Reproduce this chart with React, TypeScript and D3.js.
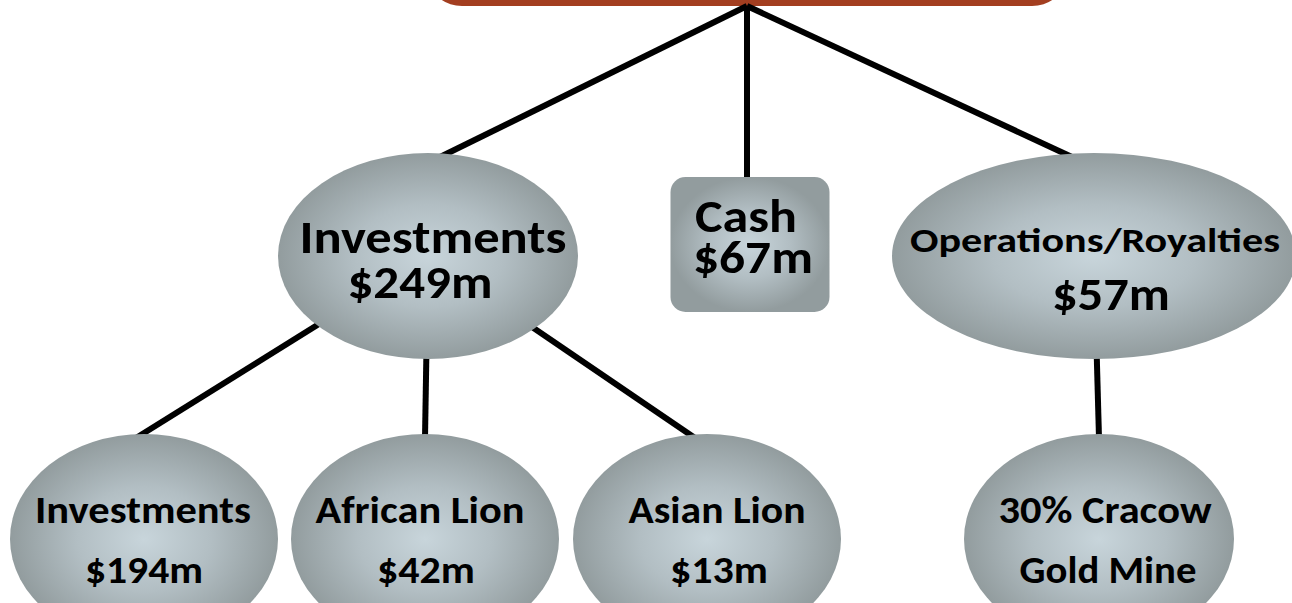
import React from 'react';
import * as d3 from 'd3';

// values
const groupNames = ['Investments', 'Cash', 'Operations/Royalties'];
const groupValues = [249, 67, 57];
const investmentNames = ['Investments', 'African Lion', 'Asian Lion'];
const investmentValues = [194, 42, 13];
const operationNames = ['30% Cracow'];
const operationNotes = ['Gold Mine'];

const W = 1292;
const H = 603;
const fmt = (v: number) => `$${d3.format('d')(v)}m`;

type Node = {
  id: string;
  lines: string[];
  children?: Node[];
};

const treeData: Node = {
  id: 'root',
  lines: [],
  children: [
    {
      id: 'inv',
      lines: [groupNames[0], fmt(groupValues[0])],
      children: investmentNames.map((n, i) => ({ id: 'inv' + i, lines: [n, fmt(investmentValues[i])] })),
    },
    { id: 'cash', lines: [groupNames[1], fmt(groupValues[1])] },
    {
      id: 'ops',
      lines: [groupNames[2], fmt(groupValues[2])],
      children: operationNames.map((n, i) => ({ id: 'ops' + i, lines: [n, operationNotes[i]] })),
    },
  ],
};

// layout of the diagram (positions, sizes, text fitting)
const layout: Record<string, any> = {
  root: { cx: 747, top: -40, bottom: 6, w: 630, r: 30 },
  inv: { shape: 'ellipse', cx: 428, rx: 150, ry: 103, dx: 12,
    text: [{ x: 433, y: 253, size: 47, len: 267 }, { x: 420, y: 298, size: 47, len: 145 }] },
  cash: { shape: 'rect', cx: 750, w: 159, h: 135, r: 15, dx: -3,
    text: [{ x: 746, y: 232, size: 46, len: 102 }, { x: 753, y: 273, size: 46, len: 120 }] },
  ops: { shape: 'ellipse', cx: 1094, rx: 202, ry: 103, dx: -22,
    text: [{ x: 1095, y: 252, size: 35, len: 370 }, { x: 1111, y: 310, size: 47, len: 118 }] },
  inv0: { shape: 'ellipse', cx: 144, rx: 134, ry: 105, dx: -8,
    text: [{ x: 143, y: 523, size: 39, len: 216 }, { x: 144, y: 583, size: 39, len: 118 }] },
  inv1: { shape: 'ellipse', cx: 425, rx: 134, ry: 105, dx: 0,
    text: [{ x: 420, y: 523, size: 39, len: 209 }, { x: 426, y: 583, size: 39, len: 98 }] },
  inv2: { shape: 'ellipse', cx: 707, rx: 134, ry: 105, dx: -12,
    text: [{ x: 717, y: 523, size: 39, len: 177 }, { x: 719, y: 583, size: 39, len: 98 }] },
  ops0: { shape: 'ellipse', cx: 1099, rx: 135, ry: 105, dx: 0,
    text: [{ x: 1105, y: 523, size: 39, len: 213 }, { x: 1108, y: 583, size: 39, len: 177 }] },
};

// top edge of each level
const levelTop = d3.scaleOrdinal<number, number>().domain([1, 2]).range([153, 434]);

export default function App() {
  const root = d3.hierarchy(treeData);
  const top = layout.root;

  const nodeTop = (d: d3.HierarchyNode<Node>) => (d.data.id === 'cash' ? 177 : levelTop(d.depth));
  const nodeCy = (d: d3.HierarchyNode<Node>) => {
    const l = layout[d.data.id];
    return l.shape === 'ellipse' ? nodeTop(d) + l.ry : nodeTop(d) + l.h / 2;
  };
  const start = (d: d3.HierarchyNode<Node>) =>
    d.depth === 0 ? [top.cx, top.bottom] : [layout[d.data.id].cx, nodeCy(d)];

  const links = root.links();
  const nodes = root.descendants().filter(d => d.depth > 0);
  const font = 'Carlito, Calibri, Lato, "Open Sans", sans-serif';

  return (
    <svg width={W} height={H} style={{ position: 'fixed', left: 0, top: 0, background: '#fff' }}>
      <defs>
        <radialGradient id="grey" cx="50%" cy="50%" r="50%">
          <stop offset="0%" stopColor="#c8d5db" />
          <stop offset="50%" stopColor="#b2bec3" />
          <stop offset="100%" stopColor="#929c9e" />
        </radialGradient>
      </defs>
      <rect x={top.cx - top.w / 2} y={top.top} width={top.w} height={top.bottom - top.top} rx={top.r} fill="#a33e20" />
      <g stroke="#000" strokeWidth={6} fill="none">
        {links.map((l, i) => {
          const [x1, y1] = start(l.source);
          const t = layout[l.target.data.id];
          return <line key={i} x1={x1} y1={y1} x2={t.cx + t.dx} y2={nodeTop(l.target) + 4} />;
        })}
      </g>
      {nodes.map(d => {
        const l = layout[d.data.id];
        const cy = nodeCy(d);
        return (
          <g key={d.data.id}>
            {l.shape === 'ellipse' ? (
              <ellipse cx={l.cx} cy={cy} rx={l.rx} ry={l.ry} fill="url(#grey)" />
            ) : (
              <rect x={l.cx - l.w / 2} y={nodeTop(d)} width={l.w} height={l.h} rx={l.r} fill="url(#grey)" />
            )}
            {d.data.lines.map((s, i) => {
              const t = l.text[i];
              return (
                <text key={i} x={t.x} y={t.y} textAnchor="middle" fontFamily={font} fontWeight="bold"
                  fontSize={t.size} fill="#000" textLength={t.len} lengthAdjust="spacingAndGlyphs">
                  {s}
                </text>
              );
            })}
          </g>
        );
      })}
    </svg>
  );
}
